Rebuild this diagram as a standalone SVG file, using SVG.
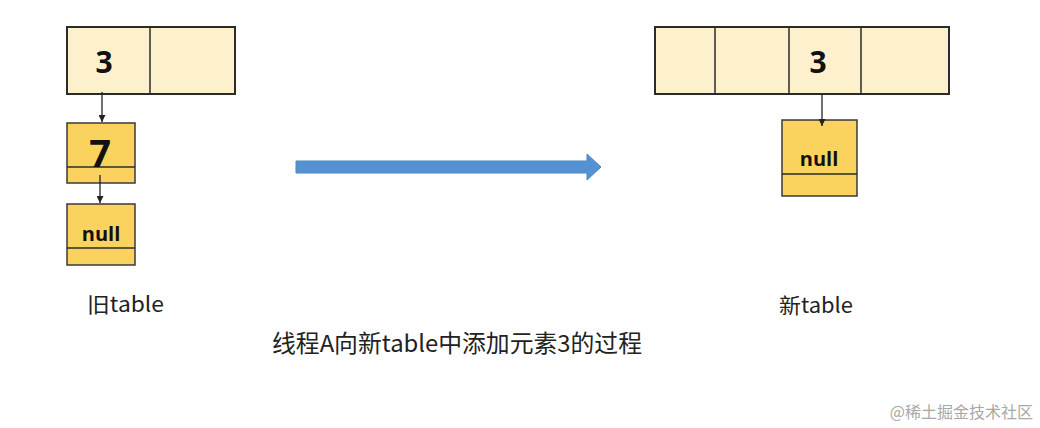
<svg xmlns="http://www.w3.org/2000/svg" width="1040" height="428" viewBox="0 0 1040 428">
<defs>
<style>
.cell{fill:#fdf0cd;stroke:#2b2b2b;stroke-width:2}
.node{fill:#fad35f;stroke:#3a3a3a;stroke-width:1.5}
.sep{stroke:#2b2b2b;stroke-width:1.5}
.num{font-family:"Open Sans","Liberation Sans",sans-serif;font-weight:bold;fill:#111;text-anchor:middle}
.lbl{font-family:"Noto Sans CJK SC","Noto Sans",sans-serif;fill:#222}
.conn{stroke:#222;stroke-width:1.3;fill:none;marker-end:url(#ah)}
</style>
<marker id="ah" viewBox="0 0 10 10" refX="10" refY="5" markerWidth="7" markerHeight="7" markerUnits="userSpaceOnUse" orient="auto">
<path d="M0,0 L10,5 L0,10 z" fill="#222"/>
</marker>
</defs>
<rect width="1040" height="428" fill="#ffffff"/>

<g id="old-table">
<rect class="cell" x="67" y="27" width="168" height="67"/>
<line class="sep" x1="150" y1="27" x2="150" y2="94"/>
<text class="num" x="104" y="73" font-size="30">3</text>
</g>

<g id="node-7">
<rect class="node" x="67" y="123" width="68" height="60"/>
<line class="sep" x1="67" y1="167" x2="135" y2="167"/>
<text class="num" x="100" y="167" font-size="38">7</text>
</g>

<g id="node-null-old">
<rect class="node" x="67" y="204" width="68" height="61"/>
<line class="sep" x1="67" y1="248" x2="135" y2="248"/>
<text class="num" x="101" y="241" font-size="20">null</text>
</g>

<g id="new-table">
<rect class="cell" x="655" y="27" width="294" height="67"/>
<line class="sep" x1="715" y1="27" x2="715" y2="94"/>
<line class="sep" x1="789" y1="27" x2="789" y2="94"/>
<line class="sep" x1="861" y1="27" x2="861" y2="94"/>
<text class="num" x="818" y="73" font-size="30">3</text>
</g>

<g id="node-null-new">
<rect class="node" x="782" y="120" width="75" height="76"/>
<line class="sep" x1="782" y1="174" x2="857" y2="174"/>
<text class="num" x="819" y="166" font-size="20">null</text>
</g>

<g id="connectors">
<line class="conn" x1="102" y1="92" x2="102" y2="122"/>
<line class="conn" x1="100" y1="175" x2="100" y2="203"/>
<line class="conn" x1="822" y1="94" x2="822" y2="126"/>
<polygon points="296,161 587,161 587,154 601,167 587,180 587,173 296,173" fill="#5592d2" stroke="#4a86c4" stroke-width="1"/>
</g>

<g id="labels">
<text class="lbl" x="87" y="312" font-size="21" textLength="77" lengthAdjust="spacingAndGlyphs">旧table</text>
<text class="lbl" x="779" y="313" font-size="21" textLength="74" lengthAdjust="spacingAndGlyphs">新table</text>
<text class="lbl" x="272" y="352" font-size="23.5" textLength="370" lengthAdjust="spacingAndGlyphs">线程A向新table中添加元素3的过程</text>
<text x="1033" y="418" font-size="16" fill="#a8a8a8" text-anchor="end" font-family="Noto Sans CJK SC,sans-serif">@稀土掘金技术社区</text>
</g>
</svg>
